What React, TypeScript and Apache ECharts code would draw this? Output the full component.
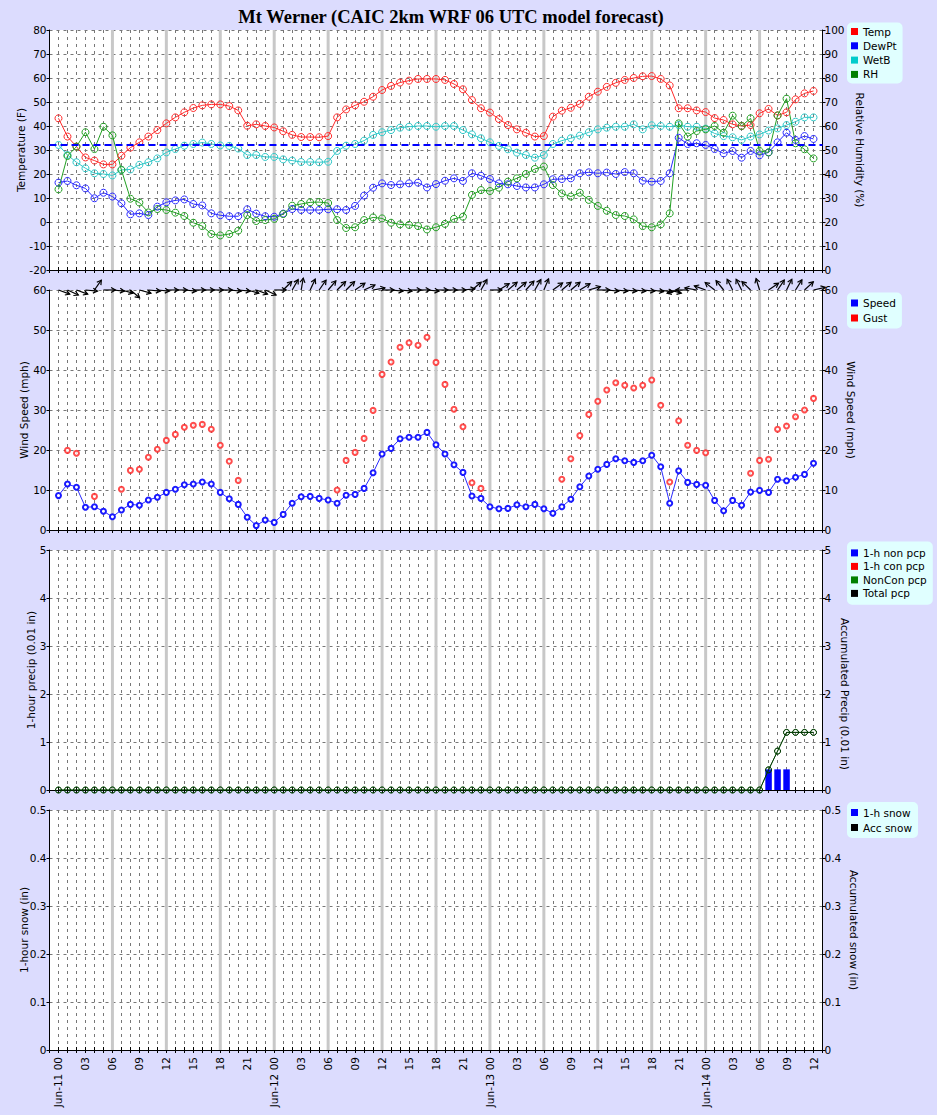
import React, { useEffect, useRef } from 'react';
import * as echarts from 'echarts';

// ---------------- data ----------------
const HOURS = Array.from({ length: 85 }, (_, i) => i); // forecast hour index (Jun-11 00 .. Jun-14 12)
const DAYS = ['Jun-11', 'Jun-12', 'Jun-13', 'Jun-14'];
const SIX_HOUR_MARKS = [6, 12, 18, 24, 30, 36, 42, 48, 54, 60, 66, 72, 78];
const FREEZING_F = 32;

const TEMP = [
  43.2, 35.6, 31.4, 26.9, 25.6, 24.0, 24.0, 27.6, 31.0, 33.2,
  35.6, 38.3, 41.1, 43.6, 45.7, 47.5, 48.6, 49.0, 49.0, 48.3,
  46.5, 40.1, 40.7, 40.0, 39.4, 37.8, 36.3, 35.4, 35.4, 35.3,
  35.8, 43.6, 46.9, 48.6, 50.1, 52.2, 55.0, 56.7, 58.1, 58.9,
  59.6, 59.6, 59.6, 59.2, 57.5, 55.3, 50.8, 47.4, 45.6, 42.9,
  40.4, 38.6, 37.2, 35.6, 35.8, 43.9, 46.4, 47.6, 49.2, 52.2,
  54.3, 56.3, 58.0, 59.2, 60.0, 60.7, 60.8, 59.6, 56.9, 47.4,
  47.4, 46.5, 45.8, 43.3, 42.5, 40.7, 40.0, 40.4, 45.3, 47.1,
  44.4, 45.7, 51.1, 53.6, 54.6,
];
const DEWPT = [
  16.4, 17.1, 15.3, 14.0, 9.9, 12.2, 10.6, 7.8, 3.2, 3.6,
  2.9, 6.4, 8.2, 9.0, 9.4, 7.5, 6.9, 3.6, 2.8, 2.4,
  2.4, 5.3, 3.5, 2.4, 2.2, 3.5, 5.4, 5.0, 5.0, 5.0,
  5.3, 5.3, 5.0, 6.7, 11.0, 14.3, 16.1, 15.4, 15.7, 16.1,
  16.4, 14.4, 15.8, 17.2, 18.2, 17.1, 20.3, 19.3, 17.9, 16.1,
  15.7, 15.0, 14.4, 14.4, 15.7, 17.8, 17.9, 18.2, 20.3, 20.7,
  20.3, 20.6, 20.0, 20.8, 20.3, 17.2, 16.8, 17.1, 20.3, 35.1,
  32.5, 32.8, 32.1, 30.4, 28.6, 29.6, 26.8, 29.6, 27.8, 29.0,
  33.2, 37.2, 34.2, 35.8, 34.6,
];
const WETB = [
  32.1, 27.9, 24.9, 22.4, 20.3, 20.0, 19.4, 21.7, 21.9, 23.8,
  24.9, 26.5, 29.0, 30.4, 31.8, 32.5, 33.1, 32.5, 31.9, 31.7,
  30.6, 27.9, 27.9, 27.1, 27.1, 26.1, 25.6, 25.0, 25.0, 24.9,
  25.1, 29.6, 31.8, 32.5, 33.9, 36.3, 37.4, 38.3, 39.3, 39.7,
  40.0, 40.0, 39.7, 40.0, 40.0, 38.3, 36.5, 34.9, 33.2, 31.7,
  30.3, 28.9, 27.9, 26.8, 27.9, 32.5, 33.9, 34.9, 36.0, 37.4,
  38.6, 39.3, 39.7, 39.7, 40.7, 38.6, 40.3, 40.0, 39.7, 40.4,
  39.7, 39.7, 38.9, 36.9, 35.8, 35.3, 34.2, 35.6, 36.5, 38.1,
  39.0, 40.4, 41.8, 43.6, 43.6,
];
const RH = [
  33.6, 47.5, 51.4, 57.4, 50.4, 59.7, 56.1, 41.7, 29.7, 28.1,
  24.0, 25.4, 25.0, 23.9, 22.5, 19.7, 18.3, 15.0, 14.4, 15.0,
  16.4, 22.9, 20.4, 20.8, 21.3, 23.3, 26.8, 27.5, 28.2, 28.3,
  27.9, 20.8, 17.5, 17.8, 20.8, 21.9, 21.5, 19.7, 19.0, 18.8,
  18.3, 16.9, 17.8, 19.2, 21.3, 22.2, 31.3, 33.3, 32.9, 34.3,
  36.8, 38.2, 40.0, 42.1, 43.1, 35.4, 31.9, 30.6, 32.2, 29.2,
  26.7, 24.7, 22.9, 22.5, 21.1, 18.3, 17.8, 19.0, 23.6, 61.1,
  55.6, 57.9, 58.6, 60.0, 57.2, 64.3, 60.0, 63.2, 49.6, 49.0,
  64.4, 71.4, 52.8, 50.3, 46.5,
];
const SPEED = [
  8.6, 11.5, 10.7, 5.7, 5.8, 4.7, 3.3, 5.0, 6.4, 6.2,
  7.5, 8.2, 9.4, 10.2, 11.3, 11.5, 12.0, 11.5, 9.4, 7.8,
  6.4, 3.2, 1.1, 2.5, 1.9, 3.9, 6.7, 8.3, 8.4, 7.9,
  7.5, 6.7, 8.7, 8.9, 10.4, 14.3, 19.0, 20.4, 22.8, 23.2,
  23.2, 24.4, 21.3, 19.0, 16.3, 14.4, 8.5, 7.9, 5.8, 5.3,
  5.4, 6.3, 5.8, 6.4, 5.3, 4.2, 5.8, 7.7, 10.8, 13.5,
  15.2, 16.4, 17.8, 17.3, 16.9, 17.3, 18.7, 15.8, 6.7, 14.8,
  11.9, 11.4, 11.2, 7.4, 4.8, 7.4, 6.2, 9.5, 9.9, 9.4,
  12.7, 12.3, 13.2, 13.9, 16.7,
];
const GUST = [
  null, 19.9, 19.2, null, 8.4, null, null, 10.2, 14.9, 15.2,
  18.2, 20.2, 22.4, 23.9, 25.7, 26.2, 26.4, 25.2, 21.2, 17.2,
  12.4, null, null, null, null, null, null, null, null, null,
  null, 10.0, 17.4, 19.4, 22.9, 29.9, 38.9, 42.0, 45.7, 46.8,
  46.2, 48.2, 41.9, 36.4, 30.2, 25.8, 11.8, 10.4, null, null,
  null, null, null, null, null, null, 12.7, 17.8, 23.6, 28.9,
  32.2, 35.0, 36.8, 36.2, 35.5, 36.2, 37.5, 31.2, 12.0, 27.3,
  21.2, 19.9, 19.3, null, null, null, null, 14.2, 17.4, 17.7,
  25.2, 26.0, 28.3, 30.0, 32.9,
];
// direction the wind blows toward, degrees counter-clockwise from east
const WIND_DIR = [
  -20, -25, -20, -5, 55, 0, -5, -15, -40, -15,
  -5, -5, 0, 0, -5, 0, 0, 0, 0, -5,
  -5, -15, -20, -25, 0, 45, 60, 80, 65, 55,
  50, 45, 45, 35, 25, 10, 0, -5, -5, 0,
  0, -5, 0, 0, 0, 5, 40, 60, 0, 32,
  40, 40, 48, 60, 67, 36, 40, 40, 32, 16,
  0, -5, -5, -5, -5, -5, -8, -10, -15, 195,
  180, 170, 160, 142, 129, 117, 117, 136, 107, 34,
  56, 64, 58, 43, 13,
];
const PCP_NON_1H = [[79, 0.43], [80, 0.43], [81, 0.43]];
const PCP_CON_1H: number[][] = [];
const PCP_ACC = [
  0, 0, 0, 0, 0, 0, 0, 0, 0, 0,
  0, 0, 0, 0, 0, 0, 0, 0, 0, 0,
  0, 0, 0, 0, 0, 0, 0, 0, 0, 0,
  0, 0, 0, 0, 0, 0, 0, 0, 0, 0,
  0, 0, 0, 0, 0, 0, 0, 0, 0, 0,
  0, 0, 0, 0, 0, 0, 0, 0, 0, 0,
  0, 0, 0, 0, 0, 0, 0, 0, 0, 0,
  0, 0, 0, 0, 0, 0, 0, 0, 0, 0.42,
  0.81, 1.2, 1.2, 1.2, 1.2,
];
const SNOW_1H: number[][] = [];
const SNOW_ACC: number[][] = [];

// ---------------- styling ----------------
const FONT = 'DejaVu Sans';
const FS = 10.5;
const GRID_TOPS = [30, 290, 550, 810];
const GRID_H = 240;
const GRID_LEFT = 49.5;
const GRID_W = 773;
const BG = '#dcdcfe';
const GRID_DASH = { color: '#777', width: 1, type: [3, 4] as any };

const pair = (arr: (number | null)[]) => HOURS.map((h, i) => [h, arr[i]]);

const xLabel = (v: number) => {
  if (v < 0 || v > 84 || v % 3 !== 0) return '';
  const hh = v % 24;
  const s = String(hh).padStart(2, '0');
  return hh === 0 ? `${DAYS[v / 24]} ${s}` : s;
};

function makeXAxes() {
  const axes: any[] = [];
  for (let gi = 0; gi < 4; gi++) {
    axes.push({
      type: 'value', gridIndex: gi, position: 'bottom', min: -1, max: 85, interval: 1,
      axisLine: { show: true, onZero: false, lineStyle: { color: '#000', width: 1 } },
      axisTick: { show: true, length: 3, lineStyle: { color: '#000' } },
      axisLabel: {
        show: gi === 3, rotate: 90, margin: 7, fontFamily: FONT, fontSize: FS, color: '#000',
        formatter: xLabel,
      },
      splitLine: { show: true, lineStyle: GRID_DASH },
    });
  }
  for (let gi = 0; gi < 4; gi++) {
    axes.push({
      type: 'value', gridIndex: gi, position: 'bottom', min: -1, max: 85, interval: 1,
      axisLine: { show: false, onZero: false },
      axisTick: { show: true, inside: true, length: 3, lineStyle: { color: '#000' } },
      axisLabel: { show: false },
      splitLine: { show: false },
    });
  }
  return axes;
}

function yAxis(gi: number, pos: 'left' | 'right', min: number, max: number, interval: number,
  name: string, nameGap: number, namePad: number[] = [0, 0, 0, 0]) {
  return {
    type: 'value', gridIndex: gi, position: pos, min, max, interval,
    name, nameLocation: 'middle', nameGap, nameRotate: pos === 'left' ? 90 : -90,
    nameMoveOverlap: false,
    nameTextStyle: { fontFamily: FONT, fontSize: FS, color: '#000', padding: namePad },
    axisLine: { show: true, onZero: false, lineStyle: { color: '#000', width: 1 } },
    axisTick: { show: true, length: 3, lineStyle: { color: '#000' } },
    axisLabel: { margin: pos === 'left' ? 3 : 2, fontFamily: FONT, fontSize: FS, color: '#000' },
    splitLine: { show: pos === 'left', lineStyle: GRID_DASH },
  };
}

const sixHourLines = (gi: number) => ({
  type: 'custom', xAxisIndex: gi, yAxisIndex: gi * 2, z: 1, silent: true, clip: false,
  data: SIX_HOUR_MARKS.map((h) => [h, 0]),
  renderItem: (params: any, api: any) => {
    const cs = params.coordSys;
    const x = api.coord([api.value(0), api.value(1)])[0];
    return {
      type: 'rect',
      shape: { x: x - 1.5, y: cs.y, width: 3, height: cs.height },
      style: { fill: '#c8c8c8' },
    };
  },
});

const hollowLine = (name: string, data: any[], color: string, yAxisIndex: number, xAxisIndex: number, size = 7) => ({
  name, type: 'line', xAxisIndex, yAxisIndex, data, z: 3,
  symbol: 'circle', symbolSize: size, showAllSymbol: true,
  itemStyle: { color: 'rgba(0,0,0,0)', borderColor: color, borderWidth: 1 },
  lineStyle: { color, width: 1 },
  emphasis: { disabled: true },
});

const legendCfg = (items: string[], colors: string[], top: number, itemGap: number, pad: number) => ({
  orient: 'vertical', left: 847, top, selectedMode: false,
  backgroundColor: '#e0ffff', borderRadius: 5,
  padding: [pad, 6, pad, 4], itemGap, itemWidth: 7, itemHeight: 7, itemTextGap: 3,
  icon: 'rect',
  textStyle: { fontFamily: FONT, fontSize: FS, color: '#000', lineHeight: 12 },
  data: items.map((n, i) => ({ name: n, icon: 'rect', itemStyle: { color: colors[i], borderWidth: 0, opacity: 1 } })),
});

const arrowSeries = {
  type: 'custom', xAxisIndex: 1, yAxisIndex: 2, z: 6, silent: true, clip: false,
  data: HOURS.map((h, i) => [h, 60, WIND_DIR[i]]),
  renderItem: (params: any, api: any) => {
    const p = api.coord([api.value(0), api.value(1)]);
    const a = (api.value(2) * Math.PI) / 180;
    const L = 12;
    const H = 5;
    const ha = (30 * Math.PI) / 180;
    const ex = p[0] + L * Math.cos(a);
    const ey = p[1] - L * Math.sin(a);
    const b1 = a + Math.PI - ha;
    const b2 = a + Math.PI + ha;
    return {
      type: 'group',
      children: [
        { type: 'line', shape: { x1: p[0], y1: p[1], x2: ex, y2: ey }, style: { stroke: '#000', lineWidth: 1.2 } },
        {
          type: 'polyline',
          shape: {
            points: [
              [ex + H * Math.cos(b1), ey - H * Math.sin(b1)],
              [ex, ey],
              [ex + H * Math.cos(b2), ey - H * Math.sin(b2)],
            ],
          },
          style: { stroke: '#000', fill: 'none', lineWidth: 1.2 },
        },
      ],
    };
  },
};

function buildOption(): any {
  return {
    animation: false,
    backgroundColor: BG,
    textStyle: { fontFamily: FONT },
    title: {
      text: 'Mt Werner (CAIC 2km WRF 06 UTC model forecast)',
      left: 446, top: 2, textAlign: 'center',
      textStyle: { fontFamily: 'Liberation Serif', fontWeight: 'bold', fontSize: 18.5, color: '#000' },
    },
    grid: GRID_TOPS.map((t) => ({
      left: GRID_LEFT, top: t, width: GRID_W, height: GRID_H,
      show: true, backgroundColor: '#ffffff', borderWidth: 0, containLabel: false,
    })),
    xAxis: makeXAxes(),
    yAxis: [
      yAxis(0, 'left', -20, 80, 10, 'Temperature (F)', 23.5),
      yAxis(0, 'right', 0, 100, 10, 'Relative Humidity (%)', 31.5),
      yAxis(1, 'left', 0, 60, 10, 'Wind Speed (mph)', 20),
      yAxis(1, 'right', 0, 60, 10, 'Wind Speed (mph)', 22.5),
      yAxis(2, 'left', 0, 5, 1, '1-hour precip (0.01 in)', 13.5),
      yAxis(2, 'right', 0, 5, 1, 'Accumulated Precip (0.01 in)', 16.5, [0, 0, 0, 48]),
      yAxis(3, 'left', 0, 0.5, 0.1, '1-hour snow (in)', 20.5),
      yAxis(3, 'right', 0, 0.5, 0.1, 'Accumulated snow (in)', 25.5),
    ],
    legend: [
      legendCfg(['Temp', 'DewPt', 'WetB', 'RH'], ['#ff0000', '#0000ff', '#00cccc', '#008000'], 22.5, 2.3, 3),
      legendCfg(['Speed', 'Gust'], ['#0000ff', '#ff0000'], 292.5, 3, 4.5),
      legendCfg(['1-h non pcp', '1-h con pcp', 'NonCon pcp', 'Total pcp'], ['#0000ff', '#ff0000', '#008000', '#000000'], 541.5, 1.5, 5.4),
      legendCfg(['1-h snow', 'Acc snow'], ['#0000ff', '#000000'], 802, 3, 4.5),
    ],
    series: [
      sixHourLines(0), sixHourLines(1), sixHourLines(2), sixHourLines(3),
      {
        ...hollowLine('Temp', pair(TEMP), '#ff2a2a', 0, 0),
        markLine: {
          silent: true, symbol: ['none', 'none'], label: { show: false },
          lineStyle: { color: '#0000ff', type: [7, 4], width: 2 },
          data: [{ yAxis: FREEZING_F }],
        },
      },
      hollowLine('DewPt', pair(DEWPT), '#2a2aff', 0, 0),
      hollowLine('WetB', pair(WETB), '#2ec8c8', 0, 0),
      hollowLine('RH', pair(RH), '#22a022', 1, 0),
      {
        name: 'Speed', type: 'line', xAxisIndex: 1, yAxisIndex: 2, data: pair(SPEED), z: 3,
        symbol: 'circle', symbolSize: 5, showAllSymbol: true,
        itemStyle: { color: '#ffffff', borderColor: '#1a1aff', borderWidth: 2 },
        lineStyle: { color: '#2a2aff', width: 1 },
      },
      {
        name: 'Gust', type: 'scatter', xAxisIndex: 1, yAxisIndex: 2,
        data: pair(GUST).filter((d) => d[1] !== null), z: 3,
        symbol: 'circle', symbolSize: 5,
        itemStyle: { color: '#ffffff', borderColor: '#ff2020', borderWidth: 2 },
      },
      arrowSeries,
      {
        name: '1-h non pcp', type: 'bar', xAxisIndex: 2, yAxisIndex: 4, data: PCP_NON_1H,
        stack: 'pcp1h', barWidth: 6.5, z: 2, itemStyle: { color: '#0000ff' },
      },
      {
        name: '1-h con pcp', type: 'bar', xAxisIndex: 2, yAxisIndex: 4, data: PCP_CON_1H,
        stack: 'pcp1h', barWidth: 6.5, z: 2, itemStyle: { color: '#ff0000' },
      },
      hollowLine('NonCon pcp', pair(PCP_ACC), '#008000', 5, 2, 6),
      hollowLine('Total pcp', pair(PCP_ACC), 'rgba(0,0,0,0.6)', 5, 2, 6),
      {
        name: '1-h snow', type: 'bar', xAxisIndex: 3, yAxisIndex: 6, data: SNOW_1H,
        barWidth: 6.5, itemStyle: { color: '#0000ff' },
      },
      hollowLine('Acc snow', SNOW_ACC, '#000000', 7, 3, 6),
    ],
  };
}

export default function App() {
  const ref = useRef<HTMLDivElement>(null);
  useEffect(() => {
    if (!ref.current) return;
    const chart = echarts.init(ref.current, null, { renderer: 'svg' });
    chart.setOption(buildOption());
    return () => chart.dispose();
  }, []);
  return (
    <div
      ref={ref}
      style={{ position: 'absolute', left: 0, top: 0, width: 937, height: 1115 }}
    />
  );
}
